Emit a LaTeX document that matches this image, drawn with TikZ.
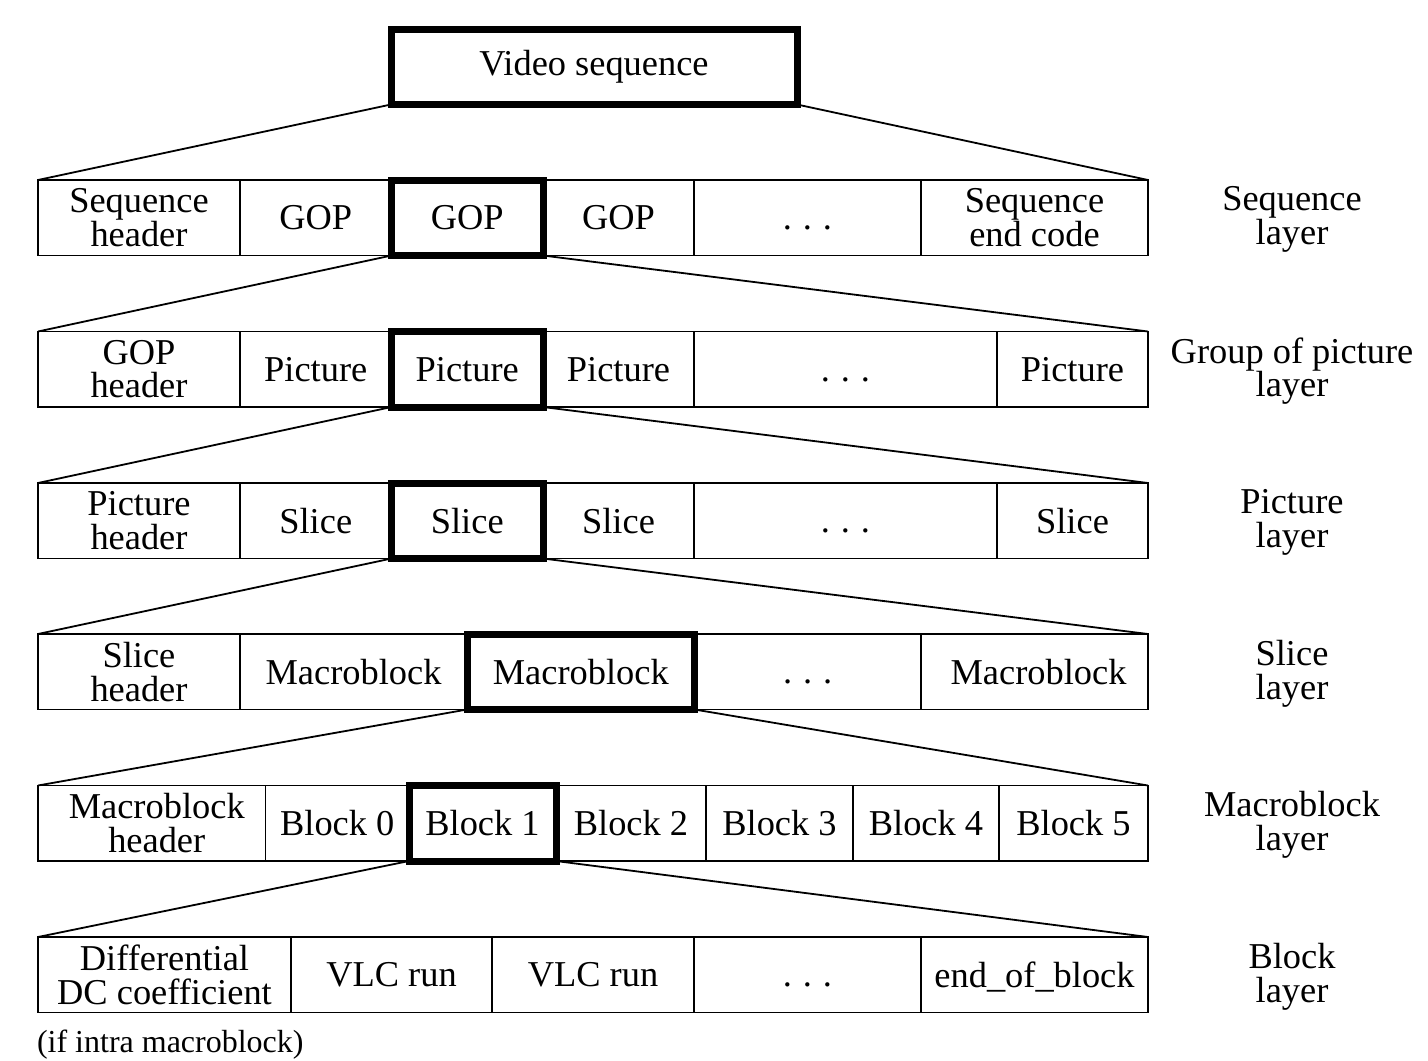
\documentclass[tikz,border=0pt]{standalone}
\usepackage{fontspec}
\setmainfont{Liberation Serif}
\newcommand\cellnode[6][cell]{%
  \pgfmathsetmacro\cw{(#4-#3)*0.5}%
  \pgfmathsetmacro\cx{(#3+#4)/2}%
  \pgfmathsetmacro\cy{#5+37.75}%
  \node[#1, minimum width=\cw pt, minimum height=37.75pt] (#2) at (\cx,\cy) {#6};}
\newcommand\dotsfill{\vphantom{GOP}.\kern0.3em.\kern0.3em.}
\begin{document}
\begin{tikzpicture}[x=0.5pt,y=-0.5pt,
  txt/.style={font=\fontsize{18.2}{16.8}\selectfont, align=center, inner sep=0pt, outer sep=0pt},
  cell/.style={txt, draw, line width=0.7pt, rectangle},
  hot/.style={cell, line width=3.5pt},
  fan/.style={line width=0.9pt},
  layerlabel/.style={txt}
]
\useasboundingbox (0,0) rectangle (1428,1060);

% top box
\cellnode[hot]{vs}{391}{797}{29}{Video sequence}

% Row 1: sequence layer
\cellnode{r1a}{38}{240}{180}{Sequence\\header}
\cellnode{r1b}{240}{391.5}{180}{GOP}
\cellnode{r1d}{543}{694}{180}{GOP}
\cellnode{r1e}{694}{921}{180}{\dotsfill}
\cellnode{r1f}{921}{1148}{180}{Sequence\\end code}
\cellnode[hot]{r1c}{391.5}{543}{180}{GOP}

% Row 2: GOP layer
\cellnode{r2a}{38}{240}{331.5}{GOP\\header}
\cellnode{r2b}{240}{391.5}{331.5}{Picture}
\cellnode{r2d}{543}{694}{331.5}{Picture}
\cellnode{r2e}{694}{997}{331.5}{\dotsfill}
\cellnode{r2f}{997}{1148}{331.5}{Picture}
\cellnode[hot]{r2c}{391.5}{543}{331.5}{Picture}

% Row 3: picture layer
\cellnode{r3a}{38}{240}{483}{Picture\\header}
\cellnode{r3b}{240}{391.5}{483}{Slice}
\cellnode{r3d}{543}{694}{483}{Slice}
\cellnode{r3e}{694}{997}{483}{\dotsfill}
\cellnode{r3f}{997}{1148}{483}{Slice}
\cellnode[hot]{r3c}{391.5}{543}{483}{Slice}

% Row 4: slice layer
\cellnode{r4a}{38}{240}{634}{Slice\\header}
\cellnode{r4b}{240}{467}{634}{Macroblock}
\cellnode{r4d}{694.5}{921}{634}{\dotsfill}
\cellnode{r4e}{921}{1148}{634}{\hspace*{4pt}Macroblock}
\cellnode[hot]{r4c}{467}{694.5}{634}{Macroblock}

% Row 5: macroblock layer
\cellnode{r5a}{38}{265.5}{785.5}{\hspace*{5pt}Macroblock\\\hspace*{5pt}header}
\cellnode{r5b}{265.5}{409}{785.5}{Block 0}
\cellnode{r5d}{556}{706}{785.5}{Block 2}
\cellnode{r5e}{706}{853}{785.5}{Block 3}
\cellnode{r5f}{853}{999}{785.5}{Block 4}
\cellnode{r5g}{999}{1148}{785.5}{Block 5}
\cellnode[hot]{r5c}{409}{556}{785.5}{Block 1}

% Row 6: block layer
\cellnode{r6a}{38}{291}{937}{Differential\\DC coefficient}
\cellnode{r6b}{291}{492}{937}{VLC run}
\cellnode{r6c}{492}{694}{937}{VLC run}
\cellnode{r6d}{694}{921}{937}{\dotsfill}
\cellnode[cell,text depth=0pt]{r6e}{921}{1148}{937}{end\_of\_block}

% fans
\draw[fan] (vs.south west) -- (r1a.north west);
\draw[fan] (vs.south east) -- (r1f.north east);
\draw[fan] (r1c.south west) -- (r2a.north west);
\draw[fan] (r1c.south east) -- (r2f.north east);
\draw[fan] (r2c.south west) -- (r3a.north west);
\draw[fan] (r2c.south east) -- (r3f.north east);
\draw[fan] (r3c.south west) -- (r4a.north west);
\draw[fan] (r3c.south east) -- (r4e.north east);
\draw[fan] (r4c.south west) -- (r5a.north west);
\draw[fan] (r4c.south east) -- (r5g.north east);
\draw[fan] (r5c.south west) -- (r6a.north west);
\draw[fan] (r5c.south east) -- (r6e.north east);

% layer labels
\node[layerlabel] (l1) at (1292,219.5) {Sequence\\layer};
\node[layerlabel] (l2) at (1292,371) {Group of picture\\layer};
\node[layerlabel] (l3) at (1292,522.5) {Picture\\layer};
\node[layerlabel] (l4) at (1292,673.5) {Slice\\layer};
\node[layerlabel] (l5) at (1292,825) {Macroblock\\layer};
\node[layerlabel] (l6) at (1292,976.5) {Block\\layer};

% note
\node[txt, font=\fontsize{16}{16}\selectfont, anchor=base west] (note) at (37,1052) {(if intra macroblock)};
\end{tikzpicture}
\end{document}
